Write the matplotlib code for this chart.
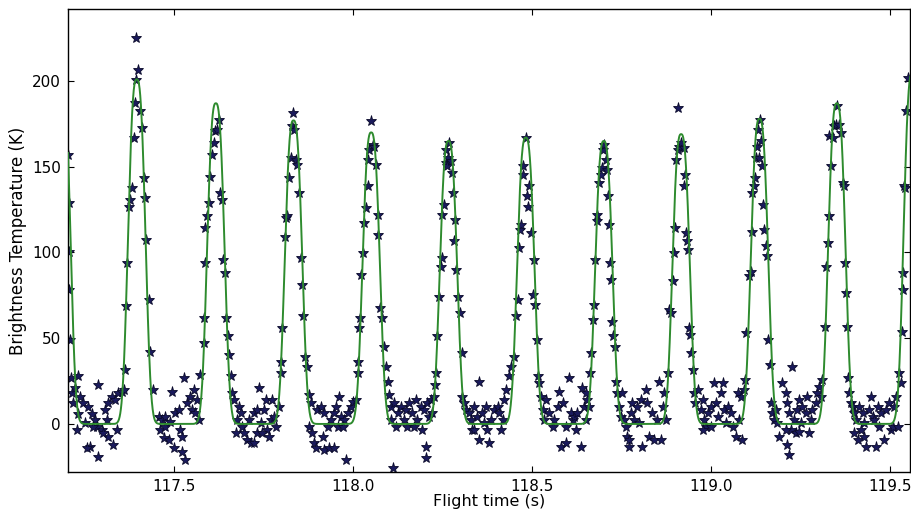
import numpy as np
import matplotlib
matplotlib.use("Agg")
import matplotlib.pyplot as plt

# ---- observed samples (flight time s, brightness temperature K) ----
time_s = [
    # peak 0 falling edge + baseline 1
    117.205, 117.206, 117.207, 117.208, 117.210, 117.213, 117.215, 117.218,
    117.231, 117.224, 117.238, 117.247, 117.233, 117.229, 117.261, 117.271, 117.280, 117.289,
    117.285, 117.299, 117.308, 117.317, 117.327, 117.336, 117.341, 117.331, 117.317, 117.303,
    117.289, 117.266, 117.257, 117.345, 117.355, 117.252, 117.275, 117.313,
    # peak 1
    117.359, 117.364, 117.366, 117.369, 117.373, 117.378, 117.383, 117.387, 117.392, 117.394,
    117.400, 117.395, 117.406, 117.411, 117.415, 117.420, 117.422, 117.430, 117.434, 117.441,
    # baseline 2
    117.458, 117.467, 117.476, 117.462, 117.472, 117.486, 117.495, 117.504, 117.514, 117.518,
    117.523, 117.500, 117.523, 117.532, 117.528, 117.537, 117.546, 117.551, 117.556, 117.560,
    117.565, 117.570, 117.476, 117.490,
    # peak 2
    117.574, 117.584, 117.584, 117.586, 117.588, 117.593, 117.598, 117.602, 117.607, 117.612,
    117.614, 117.621, 117.626, 117.628, 117.635, 117.637, 117.642, 117.646, 117.651, 117.654,
    117.658, 117.663, 117.668, 117.672,
    # baseline 3
    117.681, 117.676, 117.686, 117.690, 117.695, 117.704, 117.714, 117.723, 117.709, 117.723,
    117.732, 117.737, 117.742, 117.751, 117.756, 117.760, 117.770, 117.774, 117.779, 117.784,
    117.732, 117.746, 117.765,
    # peak 3
    117.793, 117.798, 117.800, 117.802, 117.809, 117.812, 117.815, 117.821, 117.826, 117.830,
    117.833, 117.835, 117.840, 117.844, 117.849, 117.854, 117.858, 117.860, 117.865, 117.871,
    117.877, 117.882,
    # baseline 4
    117.877, 117.886, 117.891, 117.896, 117.901, 117.910, 117.919, 117.915, 117.919, 117.933,
    117.947, 117.938, 117.947, 117.952, 117.961, 117.966, 117.975, 117.985, 117.994, 117.999,
    117.980, 117.957, 117.929, 117.971,
    # peak 4
    118.008, 118.013, 118.014, 118.017, 118.020, 118.022, 118.027, 118.031, 118.036, 118.041,
    118.042, 118.045, 118.050, 118.055, 118.059, 118.064, 118.069, 118.070, 118.076, 118.080,
    118.087, 118.092, 118.097, 118.101, 118.106, 118.113,
    # baseline 5
    118.106, 118.115, 118.125, 118.134, 118.120, 118.142, 118.147, 118.156, 118.166, 118.175,
    118.180, 118.189, 118.194, 118.198, 118.203, 118.203, 118.208, 118.212, 118.217, 118.222,
    118.152, 118.170,
    # peak 5
    118.226, 118.229, 118.231, 118.236, 118.240, 118.245, 118.248, 118.250, 118.254, 118.259,
    118.261, 118.264, 118.266, 118.268, 118.273, 118.276, 118.279, 118.284, 118.282, 118.289,
    118.294, 118.298, 118.304, 118.306, 118.310,
    # baseline 6
    118.315, 118.324, 118.329, 118.334, 118.338, 118.348, 118.352, 118.352, 118.362, 118.366,
    118.371, 118.376, 118.380, 118.385, 118.394, 118.404, 118.408, 118.413, 118.418, 118.338,
    # peak 6
    118.422, 118.427, 118.435, 118.441, 118.450, 118.455, 118.460, 118.464, 118.466, 118.469,
    118.474, 118.476, 118.483, 118.485, 118.488, 118.492, 118.497, 118.502, 118.506, 118.509,
    118.513, 118.516, 118.520, 118.525,
    # baseline 7
    118.530, 118.534, 118.539, 118.548, 118.558, 118.562, 118.572, 118.576, 118.581, 118.595,
    118.604, 118.609, 118.586, 118.595, 118.614, 118.617, 118.622, 118.627, 118.636, 118.641,
    118.645, 118.650, 118.655, 118.650,
    # peak 7
    118.659, 118.662, 118.666, 118.672, 118.673, 118.675, 118.681, 118.683, 118.687, 118.692,
    118.697, 118.699, 118.701, 118.706, 118.711, 118.714, 118.715, 118.718, 118.722, 118.725,
    118.728, 118.731, 118.734, 118.739,
    # baseline 8
    118.743, 118.748, 118.753, 118.757, 118.762, 118.767, 118.771, 118.776, 118.781, 118.785,
    118.795, 118.799, 118.804, 118.809, 118.818, 118.823, 118.827, 118.837, 118.842, 118.851,
    118.856, 118.860, 118.865, 118.870, 118.874, 118.771,
    # peak 8
    118.879, 118.884, 118.888, 118.893, 118.896, 118.899, 118.902, 118.907, 118.912, 118.916,
    118.909, 118.924, 118.927, 118.924, 118.930, 118.933, 118.935, 118.940, 118.942, 118.946,
    118.949, 118.954, 118.955,
    # baseline 9
    118.963, 118.972, 118.977, 118.982, 118.986, 118.991, 119.000, 119.010, 119.014, 119.019,
    119.028, 119.033, 119.038, 119.042, 119.047, 119.056, 119.061, 119.070, 119.075, 119.080,
    118.977, 119.000, 119.083, 119.088,
    # peak 9
    119.093, 119.096, 119.099, 119.107, 119.111, 119.114, 119.116, 119.121, 119.124, 119.127,
    119.130, 119.132, 119.137, 119.135, 119.139, 119.142, 119.146, 119.149, 119.153, 119.158,
    119.161, 119.165, 119.168, 119.172,
    # baseline 10
    119.177, 119.181, 119.186, 119.191, 119.200, 119.209, 119.214, 119.219, 119.223, 119.228,
    119.233, 119.238, 119.242, 119.247, 119.251, 119.256, 119.265, 119.270, 119.275, 119.280,
    119.284, 119.294, 119.298, 119.303, 119.214, 119.219, 119.209, 119.247,
    # peak 10
    119.308, 119.312, 119.320, 119.323, 119.326, 119.329, 119.336, 119.331, 119.340, 119.345,
    119.350, 119.352, 119.359, 119.364, 119.368, 119.373, 119.376, 119.378, 119.380, 119.382,
    119.387, 119.392,
    # baseline 11
    119.396, 119.401, 119.406, 119.410, 119.415, 119.420, 119.424, 119.429, 119.434, 119.443,
    119.448, 119.452, 119.457, 119.462, 119.466, 119.471, 119.476, 119.485, 119.490, 119.499,
    119.504, 119.508, 119.513, 119.518, 119.522, 119.401, 119.429,
    # peak 11 rising edge
    119.525, 119.532, 119.535, 119.536, 119.538, 119.541, 119.543, 119.546, 119.550,
]

temp_K = [
    157, 129, 100, 78, 49, 27, 18, 12,
    27.7, 20.8, 16, 12, 6, -3.5, 10, 6, 2.4, 22.8,
    -1.5, -3.5, 8.2, 12, 16, 14, -3.5, -12.2, -7.4, -5.4,
    -19, -13.2, -14.2, 18, 18.9, 0.4, -1.5, 2.4,
    19.9, 31.5, 68.5, 93.8, 126.8, 130.7, 137.5, 166.7, 187.1, 200.7,
    206.6, 225, 182.3, 172.5, 143.4, 131.7, 107.4, 72.4, 42.2, 19.9,
    4.3, 2.4, 4.3, -3.5, -8.3, -9.3, 18.9, 6.3, 8.2, -3.5,
    -7.4, -14.2, -16.1, -21, 26.7, 12, 16, 8.2, 19.9, 6.3,
    14, 2.4, -1.5, 1.4,
    28.6, 47.1, 61.7, 93.8, 114.2, 121, 128.8, 144.3, 157, 163.8,
    170.6, 171.6, 177.4, 134.6, 130.7, 95.7, 88, 61.7, 51, 40.3,
    27.7, 18, 14, -5.4,
    10, 2.4, 6.3, -1.5, -5.4, -9.3, -11.3, -11.3, 2.4, 6.3,
    8.2, 20.8, 0.4, 8.2, 14, -3.5, 2.4, 14, 4.3, -1.5,
    -5.4, -5.4, -7.4,
    10, 29.6, 36.4, 55.9, 109.3, 120, 121, 143.4, 155, 173.5,
    181.3, 171.6, 154, 151.1, 134.6, 96.7, 81.1, 62.7, 39.3, 33.5,
    17, 12,
    -1.5, -5.4, -11.3, -14.2, 8.2, 10, 6.3, -7.4, -15.1, -14.2,
    -14.2, 2.4, 6.3, 10, 16, 4.3, 2.4, 6.3, 10, 13,
    -21, -1.5, -1.5, -1.5,
    14, 29.6, 36.4, 55.9, 61.7, 87, 99.6, 117.1, 125.9, 138.5,
    154, 159.9, 176.4, 162.8, 161.8, 151.1, 122, 110.3, 67.5, 61.7,
    45.1, 33.5, 24.7, 17, 10, -25.8,
    2.4, 12, 6.3, 10, -1.5, 2.4, 8.2, 12, 6.3, 14,
    2.4, 10, -3.5, 8.2, -13.2, -20, 12, 4.3, 14, 6.3,
    -1.5, -1.5,
    16, 22.8, 29.6, 51, 74.3, 91.8, 96.7, 122, 127.8, 152.1,
    159.9, 150.2, 155, 163.8, 153.1, 146.3, 134.6, 119, 106.4, 89.9,
    74.3, 64.6, 41.3, 16, 12,
    8.2, 6.3, 2.4, -3.5, 10, 4.3, 24.7, -9.3, 6.3, 0.4,
    10, -3.5, -11.3, 2.4, 8.2, 10, 6.3, -3.5, 2.4, -3.5,
    14, 19.9, 27.7, 33.5, 39.3, 62.7, 72.4, 102.5, 113.2, 116.1,
    145.3, 150.2, 166.7, 132.7, 126.8, 138.5, 111.3, 75.3, 95.7, 69.5,
    49, 27.7, 23.8, 16,
    8.2, 2.4, 14, 6.3, -1.5, 2.4, 10, 18.9, -13.2, -11.3,
    26.7, 6.3, 12, -1.5, 2.4, 4.3, -3.5, 6.3, -13.2, 20.8,
    10, 2.4, 14, 18,
    10, 29.6, 41.3, 60.7, 69.5, 95.7, 118.1, 122, 140.4, 145.3,
    149.2, 159.9, 162.8, 154, 148.2, 132.7, 116.1, 93.8, 84, 59.7,
    51, 45.1, 24.7, 18,
    10, 4.3, 18, 2.4, -1.5, -7.4, -13.2, 6.3, 12, 2.4,
    10, 0.4, 14, -13.2, 19.9, 12, -7.4, 6.3, -9.3, 2.4,
    24.7, -9.3, 10, 18, 2.4, -9.3,
    29.6, 66.5, 64.6, 83.1, 99.6, 114.2, 154, 159.9, 161.8, 163.8,
    184.2, 160.9, 145.3, 138.5, 111.3, 106.4, 101.5, 55.9, 52, 41.3,
    31.5, 18, 12,
    19.9, 8.2, 14, 2.4, -1.5, 6.3, 10, 23.8, 12, 4.3,
    18, 23.8, 8.2, 0.4, 10, 6.3, -1.5, -7.4, 18, 2.4,
    -3.5, -1.5, 16, -9.3,
    19.9, 25.7, 52.9, 86, 88.9, 112.2, 134.6, 138.5, 143.4, 155,
    161.8, 171.6, 177.4, 155, 164.8, 150.2, 127.8, 113.2, 103.5, 97.7,
    49, 34.5, 12, 6.3,
    2.4, 8.2, 0.4, -7.4, 23.8, 18, 12, 6.3, -3.5, 33.5,
    2.4, -5.4, 8.2, 14, 0.4, 10, 6.3, 16, -5.4, 2.4,
    8.2, 12, 18, 21.8, -12.2, -18, -3.5, -4.5,
    16, 25.7, 56.8, 91.8, 105.4, 121, 150.2, 167.7, 166.7, 173.5,
    174.5, 185.2, 174.5, 169.6, 140.4, 138.5, 93.8, 76.3, 56.8, 26.7,
    18, 12,
    10, 6.3, 2.4, -9.3, 10, -3.5, 6.3, 0.4, -13.2, 8.2,
    16, 4.3, 2.4, -13.2, 10, -1.5, 6.3, -9.3, 8.2, 12,
    -3.5, -1.5, 10, 16, -1.5, -5.4, -7.4,
    29.6, 23.8, 53.9, 78.2, 88, 138.5, 137.5, 182.3, 201.7,
]

# ---- fitted model: one peak per antenna sweep ----
peak_centers = [117.186, 117.396, 117.617, 117.834, 118.051, 118.267, 118.483,
                118.701, 118.917, 119.136, 119.352, 119.563]
peak_heights = [205, 201, 187, 177, 170, 165, 167, 165, 169, 178, 187, 205]
peak_halfwidth = 0.0293     # s
peak_shape = 2.76           # exponent of the peak profile

x_ticks = [117.5, 118.0, 118.5, 119.0, 119.5]
y_ticks = [0, 50, 100, 150, 200]
x_range = (117.204, 119.557)
y_range = (-28, 242)

fig = plt.figure(figsize=(9.12, 5.13), dpi=100)
ax = fig.add_axes([0.0746, 0.080, 0.9234, 0.9025])

t_fit = np.linspace(x_range[0], x_range[1], 4000)
fit = np.zeros_like(t_fit)
for c, h in zip(peak_centers, peak_heights):
    fit += h * np.exp(-(np.abs(t_fit - c) / peak_halfwidth) ** peak_shape)

ax.plot(time_s, temp_K, linestyle='none', marker='*', markersize=8,
        markerfacecolor='#1a1a5c', markeredgecolor='#0a0a2a', markeredgewidth=0.6,
        zorder=2)
ax.plot(t_fit, fit, color='#2e8b2e', linewidth=1.4, zorder=3)

ax.set_xlim(*x_range)
ax.set_ylim(*y_range)
ax.set_xticks(x_ticks)
ax.set_xticklabels([f"{v:.1f}" for v in x_ticks])
ax.set_yticks(y_ticks)
ax.tick_params(direction='in', length=4, width=0.8, top=True, right=True,
               labelsize=11, pad=5)
for sp in ax.spines.values():
    sp.set_linewidth(1.0)
    sp.set_color('black')

ax.set_xlabel("Flight time (s)", fontsize=11.5, labelpad=0)
ax.set_ylabel("Brightness Temperature (K)", fontsize=12, labelpad=4)

fig.savefig("out.png", dpi=100)
